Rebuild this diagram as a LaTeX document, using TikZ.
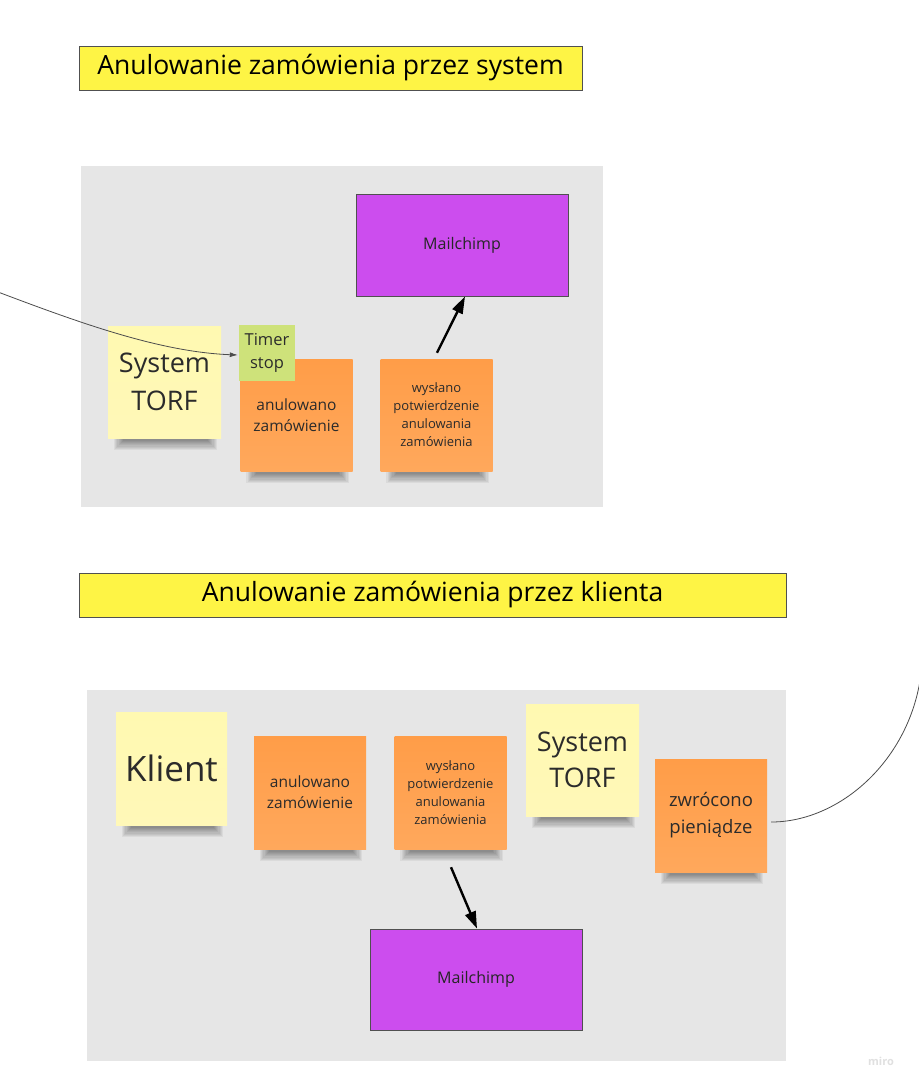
\documentclass[tikz,border=0pt]{standalone}
\usepackage{fontspec}
\setmainfont{Open Sans}
\usetikzlibrary{arrows.meta}
\definecolor{titley}{HTML}{FEF445}
\definecolor{stickyy}{HTML}{FFF9B1}
\definecolor{stickyyb}{HTML}{FFF8B8}
\definecolor{stickyo}{HTML}{FF9D48}
\definecolor{stickyob}{HTML}{FFA85C}
\definecolor{stickyg}{HTML}{CEE27A}
\definecolor{mcpurple}{HTML}{CC4DEE}
\definecolor{panelg}{HTML}{E6E6E6}
\definecolor{inkc}{HTML}{2B2B2B}
\definecolor{edgec}{HTML}{505050}
\pgfdeclarelayer{bg}
\pgfdeclarelayer{shadowl}
\pgfsetlayers{bg,shadowl,main}
\tikzset{
  titlebox/.style={draw=edgec, line width=0.9pt, fill=titley, inner sep=0pt, text=black, font=\fontsize{26.5}{30}\selectfont},
  panel/.style={fill=panelg, draw=none},
  sticky/.style={inner sep=0pt, align=center, text=inkc, minimum width=112pt, minimum height=112pt},
  ysticky/.style={sticky, top color=stickyy, bottom color=stickyyb},
  osticky/.style={sticky, top color=stickyo, bottom color=stickyob},
  gsticky/.style={inner sep=0pt, align=center, text=inkc, fill=stickyg, minimum width=56pt, minimum height=56pt},
  mcbox/.style={draw=edgec, line width=1pt, fill=mcpurple, inner sep=0pt, minimum width=212pt, minimum height=102pt, text=black!85, font=\fontsize{16}{18}\selectfont},
  fatarrow/.style={line width=2.4pt, -{Triangle[length=17pt,width=11pt]}, black},
  thinlink/.style={draw=black!70, line width=0.8pt},
}
\newcommand{\stickshadow}[1]{%
  \begin{pgfonlayer}{shadowl}
    \foreach \i in {0,...,8} {
      \fill[black, opacity=0.05] ([shift={(6+1.2*\i,-3)}]#1.south west) rectangle ([shift={(-4-1.2*\i,12-1.2*\i)}]#1.south east);
    }
  \end{pgfonlayer}}
\begin{document}
\begin{tikzpicture}[x=1pt,y=-1pt]
\useasboundingbox (0,0) rectangle (919,1088);
\begin{pgfonlayer}{bg}
\fill[white] (0,0) rectangle (919,1088);
\fill[panel] (81,166) rectangle (603,507);
\fill[panel] (87,690) rectangle (786,1061);
\end{pgfonlayer}

% ---- top section ----
\node[titlebox, minimum width=503pt, minimum height=44pt] (t1) at (330.5,68) {\raisebox{-2pt}{Anulowanie zamówienia przez system}};

\node[mcbox] (mc1) at (462,245) {Mailchimp};

\node[ysticky, minimum width=113pt, font=\fontsize{27}{38}\selectfont] (sys1) at (164.5,382) {System\\TORF};
\stickshadow{sys1}
\node[osticky, font=\fontsize{15.5}{21}\selectfont] (an1) at (296.5,415) {anulowano\\zamówienie};
\stickshadow{an1}
\node[gsticky, font=\fontsize{16.5}{23}\selectfont] (timer) at (267,353) {Timer\\stop};
\node[osticky, font=\fontsize{13}{18}\selectfont] (wy1) at (436.5,415) {wysłano\\potwierdzenie\\anulowania\\zamówienia};
\stickshadow{wy1}

\draw[fatarrow] ([shift={(0.5,-6)}]wy1.north) -- ([shift={(3,0)}]mc1.south);

\coordinate (c1) at (-2,292);
\draw[thinlink, -{Latex[length=8pt,width=5pt]}] (c1) .. controls (80,323) and (160,352) .. ([shift={(-1,2)}]timer.west);

% ---- bottom section ----
\node[titlebox, minimum width=707pt, minimum height=44pt] (t2) at (432.5,595) {\raisebox{-2pt}{Anulowanie zamówienia przez klienta}};

\node[ysticky, minimum width=111pt, minimum height=113pt, font=\fontsize{35}{40}\selectfont] (kl) at (171.5,768.5) {Klient};
\stickshadow{kl}
\node[osticky, minimum height=113pt, font=\fontsize{15.5}{21}\selectfont] (an2) at (310,792.5) {anulowano\\zamówienie};
\stickshadow{an2}
\node[osticky, minimum height=113pt, font=\fontsize{13}{18}\selectfont] (wy2) at (450.5,792.5) {wysłano\\potwierdzenie\\anulowania\\zamówienia};
\stickshadow{wy2}
\node[ysticky, minimum width=113pt, font=\fontsize{27}{36}\selectfont] (sys2) at (582.5,760) {System\\TORF};
\stickshadow{sys2}
\node[osticky, minimum height=113pt, font=\fontsize{18.5}{27}\selectfont] (zw) at (711,815.5) {zwrócono\\pieniądze};
\stickshadow{zw}

\node[mcbox, minimum height=101pt] (mc2) at (476,979.5) {Mailchimp};

\draw[fatarrow] ([shift={(0.5,18)}]wy2.south) -- ([shift={(1,0)}]mc2.north);

\coordinate (c2) at (921,674);
\draw[thinlink] ([shift={(4,6.5)}]zw.east) .. controls (840,822) and (910,760) .. (c2);

\node[text=black!12, font=\fontsize{11}{12}\selectfont\bfseries] (miro) at (881,1061) {miro};
\end{tikzpicture}
\end{document}
